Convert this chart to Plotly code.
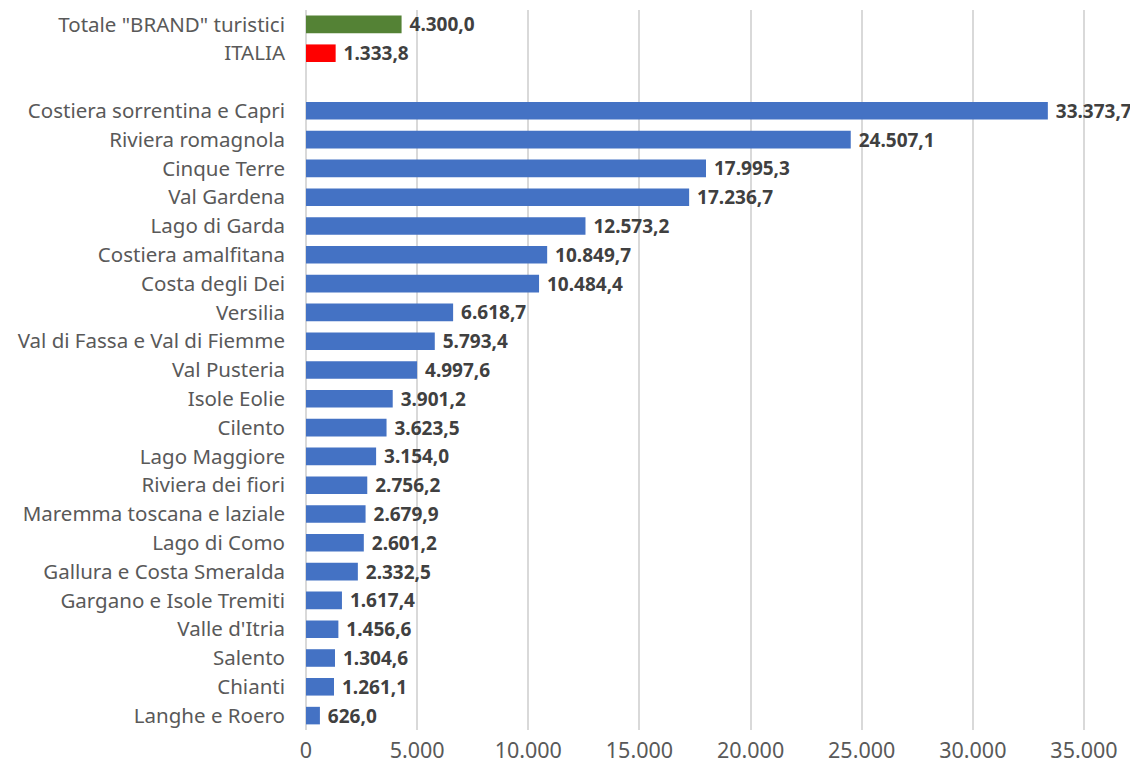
import plotly.graph_objects as go

CATEGORIES = [
    'Totale "BRAND" turistici', "ITALIA", " ",
    "Costiera sorrentina e Capri", "Riviera romagnola", "Cinque Terre",
    "Val Gardena", "Lago di Garda", "Costiera amalfitana", "Costa degli Dei",
    "Versilia", "Val di Fassa e Val di Fiemme", "Val Pusteria", "Isole Eolie",
    "Cilento", "Lago Maggiore", "Riviera dei fiori", "Maremma toscana e laziale",
    "Lago di Como", "Gallura e Costa Smeralda", "Gargano e Isole Tremiti",
    "Valle d'Itria", "Salento", "Chianti", "Langhe e Roero",
]
VALUES = [
    4300.0, 1333.8, None,
    33373.7, 24507.1, 17995.3, 17236.7, 12573.2, 10849.7, 10484.4,
    6618.7, 5793.4, 4997.6, 3901.2, 3623.5, 3154.0, 2756.2, 2679.9,
    2601.2, 2332.5, 1617.4, 1456.6, 1304.6, 1261.1, 626.0,
]
X_TICKS = [0, 5000, 10000, 15000, 20000, 25000, 30000, 35000]

GREEN = "#548235"
RED = "#FF0000"
BLUE = "#4472C4"
bar_colors = [GREEN, RED, BLUE] + [BLUE] * (len(VALUES) - 3)

FONT = "Noto Sans"

fig = go.Figure(go.Bar(
    x=VALUES,
    y=CATEGORIES,
    orientation="h",
    marker=dict(color=bar_colors, line=dict(width=0)),
    texttemplate=" %{x:,.1f}",
    textposition="outside",
    constraintext="none",
    textfont=dict(family=FONT, size=19, color="#404040", weight="bold"),
    cliponaxis=False,
))

# page body has an 8px margin, so the figure is 8px smaller than the window
fig.update_layout(
    width=1130,
    height=766,
    separators=",.",
    plot_bgcolor="white",
    paper_bgcolor="white",
    margin=dict(l=298, r=0, t=2, b=44),
    bargap=0.39,
    showlegend=False,
    font=dict(family=FONT, color="#595959"),
    xaxis=dict(
        range=[0, 37430],
        tickvals=X_TICKS,
        tickformat=",.0f",
        showgrid=True,
        gridcolor="#D9D9D9",
        gridwidth=1.5,
        zeroline=True,
        zerolinecolor="#D9D9D9",
        zerolinewidth=1.5,
        tickfont=dict(family=FONT, size=21.5, color="#595959"),
        ticklabelstandoff=5,
    ),
    yaxis=dict(
        categoryorder="array",
        categoryarray=CATEGORIES,
        autorange="reversed",
        showgrid=False,
        tickfont=dict(family=FONT, size=20.5, color="#595959"),
        ticklabelstandoff=20,
    ),
)

fig.write_html("out.html")
